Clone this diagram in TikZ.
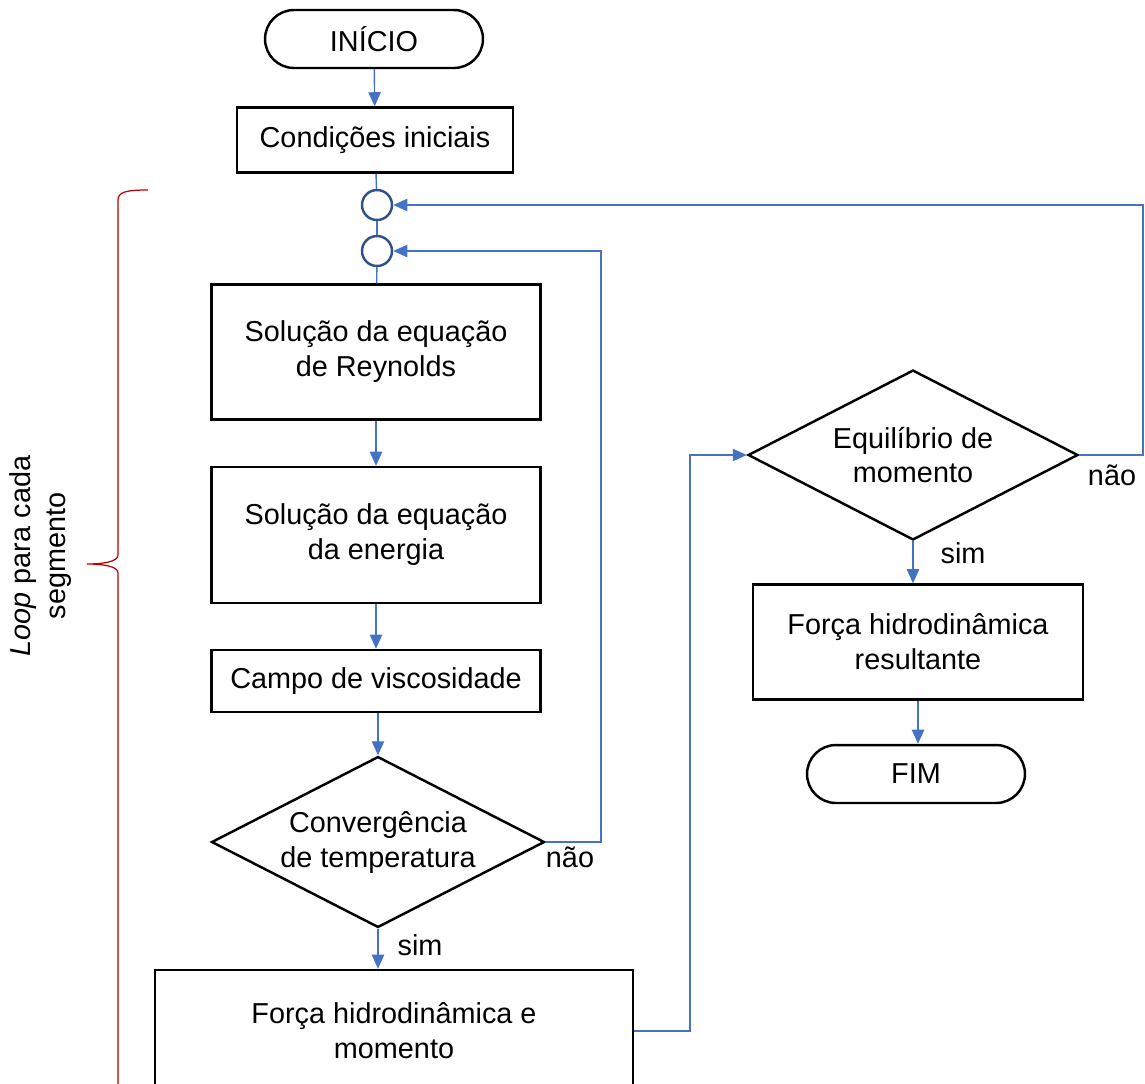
\documentclass[tikz,border=0pt]{standalone}
\usepackage{fontspec}
\setmainfont{Liberation Sans}
\usetikzlibrary{shapes.geometric,arrows.meta}
\definecolor{linkblue}{HTML}{4472C4}
\definecolor{ringblue}{HTML}{2F528F}
\definecolor{bracered}{HTML}{C00000}
\begin{document}
\begin{tikzpicture}[x=0.02cm,y=-0.02cm,
    every node/.style={font=\fontsize{16.4}{19.9}\selectfont},
    box/.style={draw,line width=1.4pt,align=center,inner sep=0pt},
    term/.style={box,rounded corners=0.58cm,minimum width=4.36cm,minimum height=1.16cm},
    test/.style={box,shape=diamond,aspect=2},
    junc/.style={circle,draw=ringblue,line width=1.4pt,minimum size=0.6cm,inner sep=0pt},
    link/.style={draw=linkblue,line width=0.8pt},
    flow/.style={link,-{Triangle[length=8pt,width=7pt]}}]
    \useasboundingbox (0,0) rectangle (1145,1083);
    % left column
    \node[term] (inicio) at (374,39) {INÍCIO};
    \node[box,minimum width=5.52cm,minimum height=1.30cm] (cond) at (375,140) {Condições iniciais};
    \node[junc] (c1) at (377,205) {};
    \node[junc] (c2) at (377,251) {};
    \node[box,minimum width=6.58cm,minimum height=2.70cm] (reyn) at (376,352) {Solução da equação\\de Reynolds};
    \node[box,minimum width=6.58cm,minimum height=2.72cm] (ener) at (376,535) {Solução da equação\\da energia};
    \node[box,minimum width=6.58cm,minimum height=1.24cm] (visc) at (376,681) {Campo de viscosidade};
    \node[test,minimum width=6.66cm,minimum height=3.42cm] (conv) at (378,842) {Convergência\\de temperatura};
    \node[box,minimum width=9.56cm,minimum height=2.44cm] (forca) at (394,1031) {Força hidrodinâmica e\\momento};
    % right column
    \node[test,minimum width=6.60cm,minimum height=3.40cm] (equi) at (913,455) {Equilíbrio de\\momento};
    \node[box,minimum width=6.60cm,minimum height=2.30cm] (result) at (918,642) {Força hidrodinâmica\\resultante};
    \node[term] (fim) at (916,774) {FIM};
    % labels
    \node (no1) at (570,857) {não};
    \node (yes1) at (420,945) {sim};
    \node (no2) at (1112,475) {não};
    \node (yes2) at (963,553) {sim};
    \coordinate (backA) at (601,0);
    \coordinate (backB) at (1143,0);
    \coordinate (fwd) at (690,0);
    % connectors
    \draw[flow] (inicio) -- (cond);
    \draw[link] (cond) -- (c1);
    \draw[link] (c1) -- (c2);
    \draw[link] (c2) -- (reyn);
    \draw[flow] (reyn) -- (ener);
    \draw[flow] (ener) -- (visc);
    \draw[flow] (conv.north |- visc.south) -- (conv.north);
    \draw[flow] (conv.south) -- (conv.south |- forca.north);
    \draw[flow] (conv.east) -- (conv.east -| backA) |- (c2);
    \draw[flow] (forca.east) -- (forca.east -| fwd) |- (equi.west);
    \draw[flow] (equi.east) -- (equi.east -| backB) |- (c1);
    \draw[flow] (equi.south) -- (equi.south |- result.north);
    \draw[flow] (result.south) -- (result.south |- fim.north);
    % brace
    \draw[bracered,line width=0.7pt] (148,190) .. controls (126,190) and (118,192) .. (118,200)
      -- (118,555) .. controls (118,562) and (102,564) .. (87,564)
      .. controls (102,564) and (118,566) .. (118,573) -- (118,1100);
    \node[rotate=90,align=center] (loop) at (41,556) {\textit{Loop} para cada\\segmento};
  \end{tikzpicture}
\end{document}
